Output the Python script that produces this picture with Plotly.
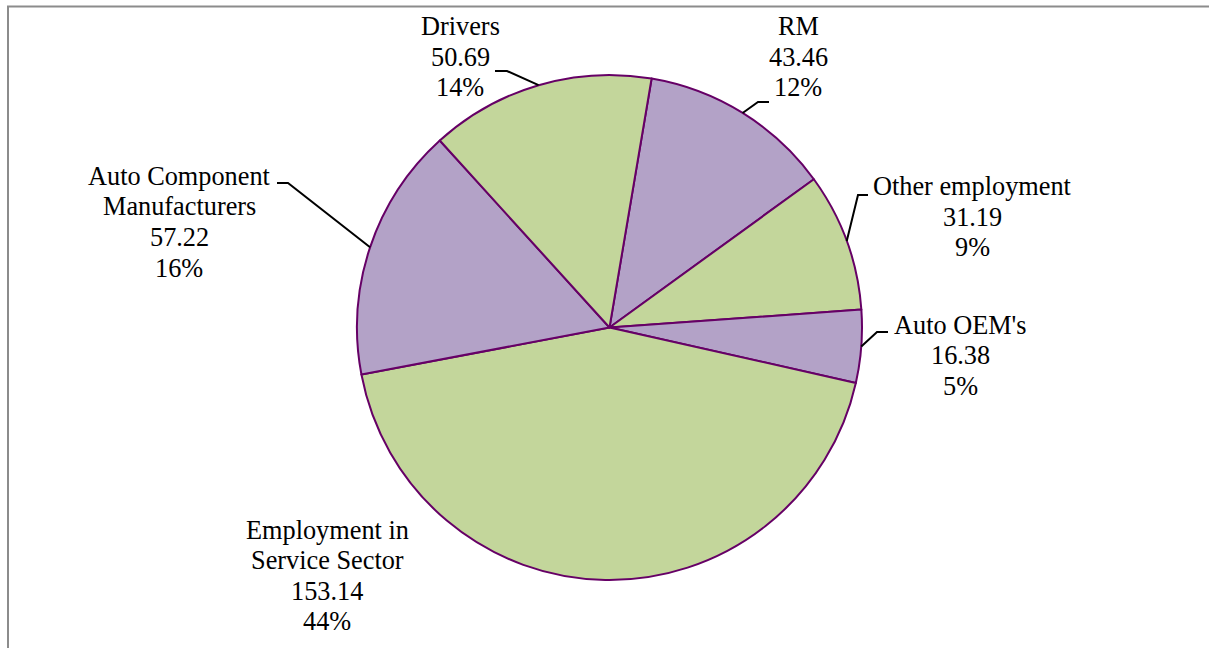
import math
import plotly.graph_objects as go

# Employment breakdown (values in lakh), listed clockwise starting just right of 12 o'clock
categories = ["RM", "Other employment", "Auto OEM's", "Employment in Service Sector",
              "Auto Component Manufacturers", "Drivers"]
name_lines = [["RM"], ["Other employment"], ["Auto OEM's"], ["Employment in", "Service Sector"],
              ["Auto Component", "Manufacturers"], ["Drivers"]]
values = [43.46, 31.19, 16.38, 153.14, 57.22, 50.69]
value_labels = ["43.46", "31.19", "16.38", "153.14", "57.22", "50.69"]
percent_labels = ["12%", "9%", "5%", "44%", "16%", "14%"]

GREEN = "#C3D69B"
PURPLE = "#B3A2C7"
colors = [PURPLE, GREEN, PURPLE, GREEN, PURPLE, GREEN]

W, H = 1209, 648
PIE_CX, PIE_CY, PIE_R = 609.5, 327.5, 252.5
ROTATION = 9.6
FONT = "'Times New Roman', 'Liberation Serif', serif"
FONT_SIZE = 26.3
LINE_STEP = 30.5

# label block placement (pixels): centre x, y of first line
label_pos = [(798, 27), (972, 186.5), (960, 325), (327, 530), (179, 176.5), (460, 26.5)]
# leader elbows: (elbow point, end point next to the text); None = no leader
leaders = [((758, 102), (769, 102)), ((858, 195), (868, 195)), ((877, 332), (888, 332)),
           None, ((288, 183), (277, 183)), ((507, 71), (495, 71))]


def px(x):
    return x / W


def py(y):
    return 1 - y / H


fig = go.Figure(go.Pie(
    labels=categories,
    values=values,
    sort=False,
    direction="clockwise",
    rotation=ROTATION,
    marker=dict(colors=colors, line=dict(color="#660066", width=2)),
    textinfo="none",
    showlegend=False,
    domain=dict(x=[px(PIE_CX - PIE_R), px(PIE_CX + PIE_R)],
                y=[py(PIE_CY + PIE_R), py(PIE_CY - PIE_R)]),
))

annotations = []
shapes = []
total = sum(values)
start = ROTATION
for i, v in enumerate(values):
    span = v / total * 360
    mid = math.radians(start + span / 2)
    start += span
    rim = (PIE_CX + PIE_R * math.sin(mid), PIE_CY - PIE_R * math.cos(mid))

    lines = name_lines[i] + [value_labels[i], percent_labels[i]]
    cx, y0 = label_pos[i]
    for k, t in enumerate(lines):
        annotations.append(dict(
            x=px(cx), y=py(y0 + k * LINE_STEP), xref="paper", yref="paper",
            text=t, showarrow=False, xanchor="center", yanchor="middle",
            font=dict(family=FONT, size=FONT_SIZE, color="#000000"),
        ))

    if leaders[i] is not None:
        (ex, ey), (tx, ty) = leaders[i]
        path = (f"M {px(rim[0])},{py(rim[1])} L {px(ex)},{py(ey)} "
                f"L {px(tx)},{py(ty)}")
        shapes.append(dict(type="path", path=path, xref="paper", yref="paper",
                           line=dict(color="#000000", width=2)))

# chart-area frame (top and left edges)
shapes.append(dict(type="line", xref="paper", yref="paper",
                   x0=px(7), y0=py(6.5), x1=1, y1=py(6.5),
                   line=dict(color="#8C8C8C", width=2)))
shapes.append(dict(type="line", xref="paper", yref="paper",
                   x0=px(8), y0=py(6), x1=px(8), y1=0,
                   line=dict(color="#8C8C8C", width=2)))

fig.update_layout(
    width=W, height=H, autosize=False,
    margin=dict(l=0, r=0, t=0, b=0),
    paper_bgcolor="#FFFFFF", plot_bgcolor="#FFFFFF",
    font=dict(family=FONT),
    annotations=annotations, shapes=shapes,
)

fig.write_html("out.html")
